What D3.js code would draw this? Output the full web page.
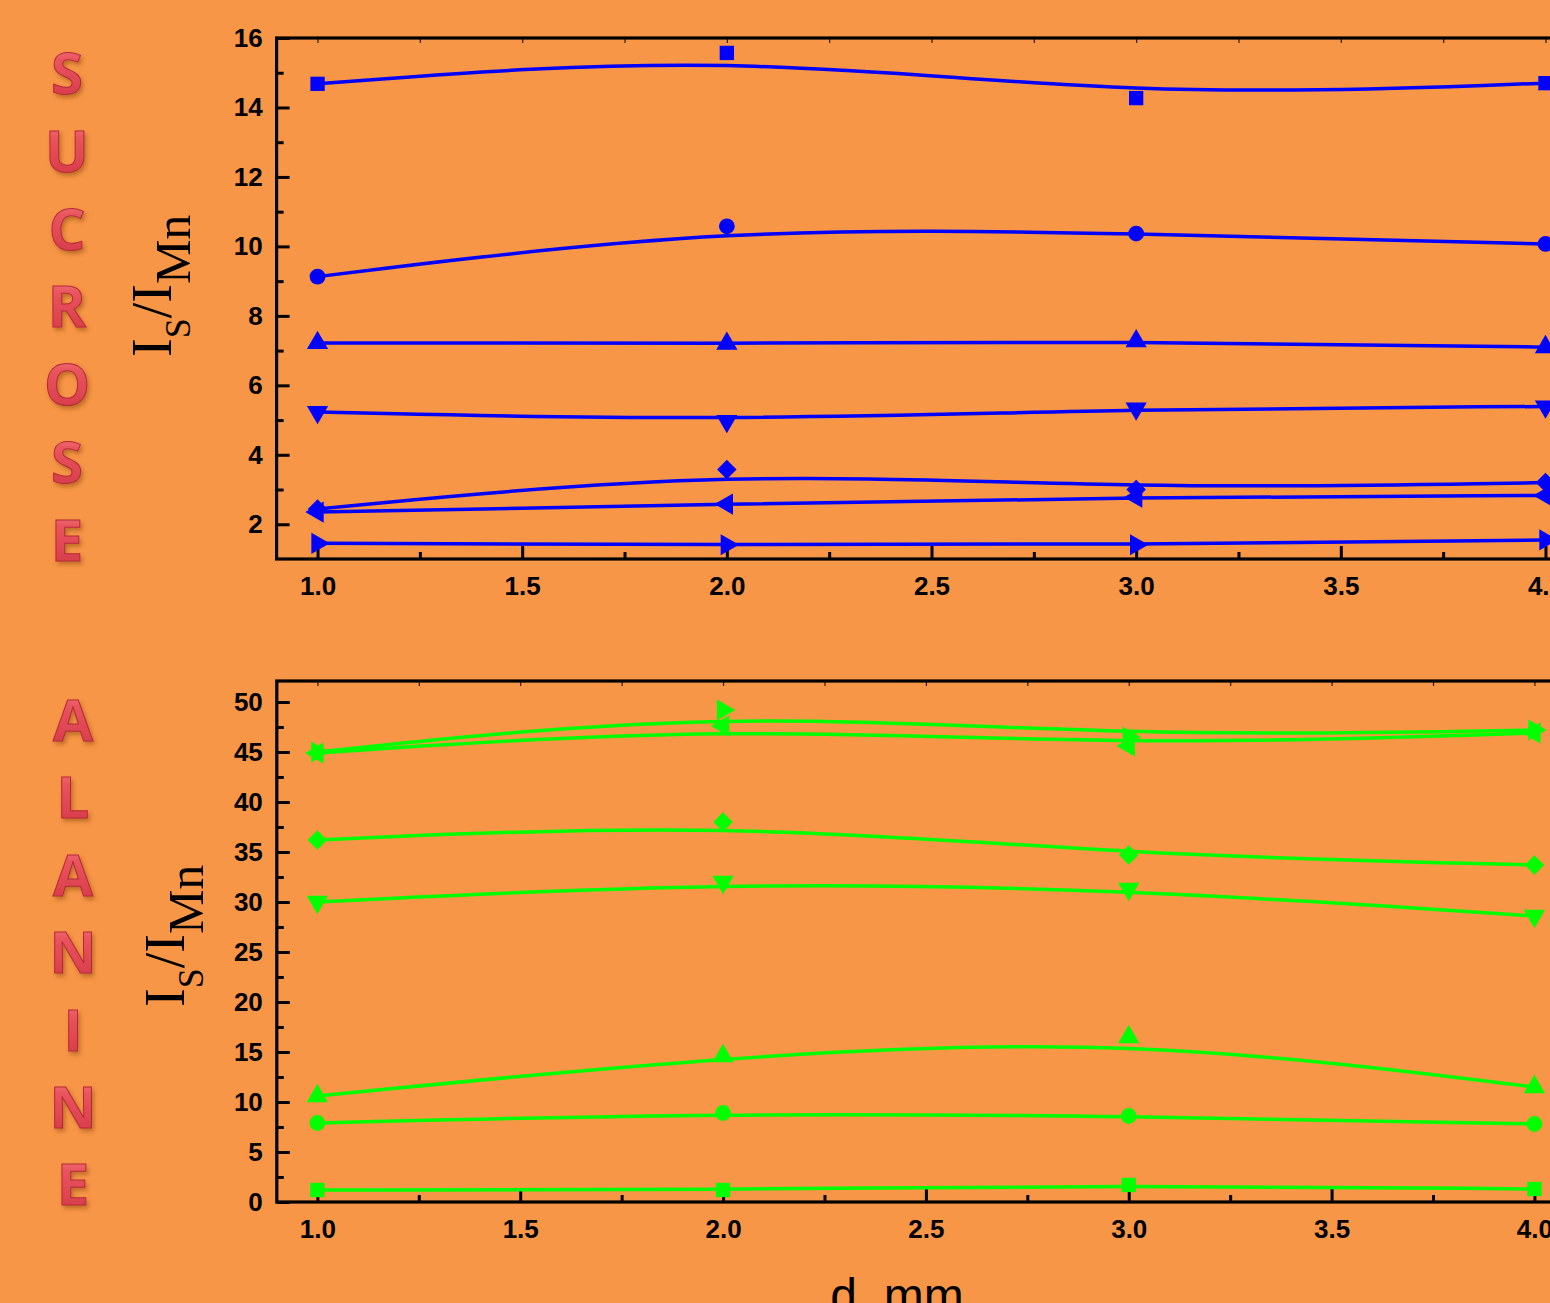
<!DOCTYPE html>
<html>
<head>
<meta charset="utf-8">
<script src="https://cdn.jsdelivr.net/npm/d3@7"></script>
<style>
html,body{margin:0;padding:0;background:#f79646;overflow:hidden;}
svg{display:block;}
</style>
</head>
<body>
<svg id="chart" width="1550" height="1303"></svg>
<script>
// ---------------- DATA ----------------
const distances = [1.0, 2.0, 3.0, 4.0];            // d, mm
const xTickLabels = ["1.0","1.5","2.0","2.5","3.0","3.5","4.0"];
const sucroseYTicks = [2,4,6,8,10,12,14,16];
const alanineYTicks = [0,5,10,15,20,25,30,35,40,45,50];

// Sucrose (blue) series
const sucSquare   = [14.68, 15.57, 14.27, 14.70];
const sucCircle   = [9.13, 10.58, 10.37, 10.07];
const sucTriUp    = [7.22, 7.20, 7.27, 7.10];
const sucTriDown  = [5.23, 4.97, 5.33, 5.39];
const sucDiamond  = [2.44, 3.58, 3.00, 3.20];
const sucTriLeft  = [2.35, 2.58, 2.78, 2.83];
const sucTriRight = [1.45, 1.41, 1.41, 1.55];

// Alanine (green) series
const alaSquare   = [1.2, 1.2, 1.7, 1.3];
const alaCircle   = [7.9, 8.9, 8.6, 7.8];
const alaTriUp    = [10.6, 14.6, 16.5, 11.5];
const alaTriDown  = [30.0, 32.0, 31.3, 28.6];
const alaDiamond  = [36.2, 38.0, 34.7, 33.7];
const alaTriLeft  = [44.9, 47.6, 45.6, 46.9];
const alaTriRight = [45.0, 49.2, 46.5, 47.2];

const sucroseLetters = ["S","U","C","R","O","S","E"];
const alanineLetters = ["A","L","A","N","I","N","E"];

// ---------------- SETUP ----------------
const svg = d3.select("#chart");
const defs = svg.append("defs");
const grad = defs.append("linearGradient").attr("id","redGrad").attr("x1",0).attr("y1",0).attr("x2",0).attr("y2",1);
grad.append("stop").attr("offset","0%").attr("stop-color","#f7969a");
grad.append("stop").attr("offset","35%").attr("stop-color","#e9545d");
grad.append("stop").attr("offset","100%").attr("stop-color","#d23444");
const filt = defs.append("filter").attr("id","shadow").attr("x","-30%").attr("y","-30%").attr("width","160%").attr("height","160%");
filt.append("feDropShadow").attr("dx",2).attr("dy",3).attr("stdDeviation",2).attr("flood-color","#7a3a10").attr("flood-opacity",0.45);

// custom symbol types
function rotatedSymbol(base, angleDeg){
  const a = angleDeg*Math.PI/180, c=Math.cos(a), s=Math.sin(a);
  return { draw(ctx, size){
    const p = d3.path(); base.draw(p, size);
    const pts = p.toString().replace(/^M/,"").replace(/Z$/,"").split("L").map(q=>q.split(",").map(Number));
    pts.forEach((pt,i)=>{ const x=pt[0]*c-pt[1]*s, y=pt[0]*s+pt[1]*c; if(i===0) ctx.moveTo(x,y); else ctx.lineTo(x,y); });
    ctx.closePath();
  }};
}
const symDiamond = { draw(ctx,size){ const r=Math.sqrt(size/2); ctx.moveTo(0,-r); ctx.lineTo(r,0); ctx.lineTo(0,r); ctx.lineTo(-r,0); ctx.closePath(); } };
const symbols = {
  square: d3.symbolSquare,
  circle: d3.symbolCircle,
  up: d3.symbolTriangle,
  down: rotatedSymbol(d3.symbolTriangle,180),
  diamond: symDiamond,
  left: rotatedSymbol(d3.symbolTriangle,-90),
  right: rotatedSymbol(d3.symbolTriangle,90)
};
const symSizes = {square:205, circle:195, up:195, down:195, diamond:190, left:195, right:195};

function drawPanel(cfg){
  const g = svg.append("g");
  const x = d3.scaleLinear().domain([0.9,4.1]).range(cfg.xRange);
  const y = d3.scaleLinear().domain(cfg.yDomain).range(cfg.yRange);
  const [x0,x1] = cfg.xRange, [yb,yt] = cfg.yRange;

  const majorX = xTickLabels.map(Number);
  const minorX = d3.range(1.25,4.01,0.5);

  // top small ticks
  g.append("g").attr("transform",`translate(0,${yt})`)
    .call(d3.axisTop(x).tickValues(majorX.concat(minorX)).tickSize(-5).tickFormat(""))
    .call(s=>s.select(".domain").remove())
    .call(s=>s.selectAll("line").attr("stroke","#222").attr("stroke-width",1.2));

  // bottom axis
  g.append("g").attr("transform",`translate(0,${yb})`)
    .call(d3.axisBottom(x).tickValues(minorX).tickSize(-7).tickFormat(""))
    .call(s=>s.select(".domain").remove())
    .call(s=>s.selectAll("line").attr("stroke","#000").attr("stroke-width",3));
  g.append("g").attr("transform",`translate(0,${yb})`)
    .call(d3.axisBottom(x).tickValues(majorX).tickSize(-13).tickPadding(18).tickFormat((d,i)=>xTickLabels[i]))
    .call(s=>s.select(".domain").remove())
    .call(s=>s.selectAll("line").attr("stroke","#000").attr("stroke-width",3))
    .call(s=>s.selectAll("text").attr("fill","#000").attr("font-family","Liberation Sans, Arial, sans-serif")
      .attr("font-weight","bold").attr("font-size",26));

  // left axis
  g.append("g").attr("transform",`translate(${x0},0)`)
    .call(d3.axisLeft(y).tickValues(cfg.minorY).tickSize(-7).tickFormat(""))
    .call(s=>s.select(".domain").remove())
    .call(s=>s.selectAll("line").attr("stroke","#000").attr("stroke-width",3));
  g.append("g").attr("transform",`translate(${x0},0)`)
    .call(d3.axisLeft(y).tickValues(cfg.majorY).tickSize(-13).tickPadding(14).tickFormat(d3.format("d")))
    .call(s=>s.select(".domain").remove())
    .call(s=>s.selectAll("line").attr("stroke","#000").attr("stroke-width",3))
    .call(s=>s.selectAll("text").attr("fill","#000").attr("font-family","Liberation Sans, Arial, sans-serif")
      .attr("font-weight","bold").attr("font-size",26));

  // frame
  g.append("rect").attr("x",x0).attr("y",yt).attr("width",x1-x0).attr("height",yb-yt)
    .attr("fill","none").attr("stroke","#000").attr("stroke-width",3.2);

  // series
  const line = d3.line().x(d=>x(d[0])).y(d=>y(d[1])).curve(d3.curveBasis);
  cfg.series.forEach(ser=>{
    const pts = distances.map((d,i)=>[d, ser.values[i]]);
    g.append("path").attr("d",line(pts)).attr("fill","none").attr("stroke",cfg.color).attr("stroke-width",3.5);
    g.selectAll(null).data(pts).join("path")
      .attr("transform",d=>`translate(${x(d[0])},${y(d[1])})`)
      .attr("d",d3.symbol().type(symbols[ser.sym]).size(symSizes[ser.sym]))
      .attr("fill",cfg.color);
  });

  // y title
  const t = g.append("text").attr("transform",`translate(${cfg.titleX},${cfg.titleY}) rotate(-90)`)
    .attr("font-family","Liberation Serif, 'Times New Roman', serif").attr("fill","#000").attr("font-size",56);
  t.append("tspan").text("I");
  t.append("tspan").attr("font-size",36).attr("dy",19).text("S");
  t.append("tspan").attr("dy",-19).text("/I");
  t.append("tspan").attr("font-size",50).attr("dy",19).text("Mn");

  // side letters
  svg.append("g").selectAll("text").data(cfg.letters).join("text")
    .attr("x",cfg.lettersX).attr("y",(d,i)=>cfg.letterY0 + i*cfg.letterStep + 21)
    .attr("text-anchor","middle").attr("font-family","'Open Sans', Lato, sans-serif").attr("font-weight","bold")
    .attr("font-size",58).attr("fill","url(#redGrad)").attr("stroke","#b8283a").attr("stroke-width",1)
    .attr("filter","url(#shadow)").text(d=>d);
}

drawPanel({
  xRange:[276.6,1586.4], yDomain:[1,16], yRange:[559,38],
  majorY:sucroseYTicks, minorY:d3.range(3,16,2),
  color:"#0000ff",
  series:[
    {values:sucSquare, sym:"square"},
    {values:sucCircle, sym:"circle"},
    {values:sucTriUp, sym:"up"},
    {values:sucTriDown, sym:"down"},
    {values:sucDiamond, sym:"diamond"},
    {values:sucTriLeft, sym:"left"},
    {values:sucTriRight, sym:"right"}
  ],
  titleX:171, titleY:357,
  letters:sucroseLetters, lettersX:67, letterY0:73, letterStep:77.8
});

drawPanel({
  xRange:[276.8,1575.0], yDomain:[0,52.1], yRange:[1202,681],
  majorY:alanineYTicks, minorY:d3.range(2.5,52,5),
  color:"#00ff00",
  series:[
    {values:alaSquare, sym:"square"},
    {values:alaCircle, sym:"circle"},
    {values:alaTriUp, sym:"up"},
    {values:alaTriDown, sym:"down"},
    {values:alaDiamond, sym:"diamond"},
    {values:alaTriLeft, sym:"left"},
    {values:alaTriRight, sym:"right"}
  ],
  titleX:184, titleY:1007,
  letters:alanineLetters, lettersX:73, letterY0:720, letterStep:77.4
});

// x-axis title
svg.append("text").attr("x",897).attr("y",1312).attr("text-anchor","middle")
  .attr("font-family","Liberation Sans, Arial, sans-serif").attr("font-size",48).attr("fill","#000")
  .text("d, mm");
</script>
</body>
</html>
